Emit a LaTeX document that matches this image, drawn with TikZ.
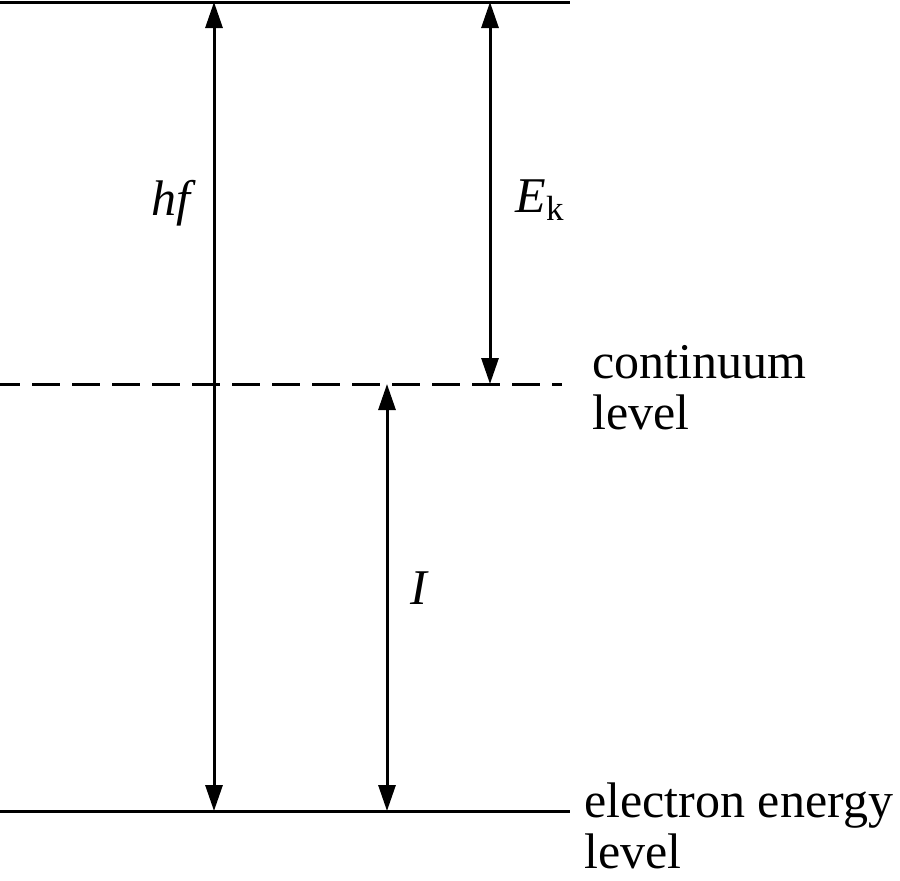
\documentclass[tikz,border=0pt]{standalone}
\usepackage{fontspec}
\setmainfont{Liberation Serif}
\usetikzlibrary{arrows.meta, positioning}

\begin{document}
\begin{tikzpicture}[x=0.5pt, y=-0.5pt,
  level/.style={line width=1.5pt},
  gap/.style={line width=1.5pt, {Triangle[length=13pt, width=8.5pt]}-{Triangle[length=13pt, width=8.5pt]}},
  lbl/.style={font=\fontsize{25pt}{25.5pt}\selectfont, inner sep=0pt},
  side/.style={lbl, align=left, anchor=west}]
\useasboundingbox (0,0) rectangle (900,880);

% Energy levels
\coordinate (topL) at (0,2);
\coordinate (topR) at (570,2);
\coordinate (contL) at (0,384);
\coordinate (contR) at (562,384);
\coordinate (elecL) at (0,811);
\coordinate (elecR) at (570,811);
\draw[level] (topL) -- (topR);
\draw[level, dash pattern=on 14pt off 6pt, dash phase=4pt] (contL) -- (contR);
\draw[level] (elecL) -- (elecR);

% Arrow end points
\coordinate (hftop) at (214,2);
\coordinate (hfbot) at (214,811);
\coordinate (ektop) at (490,2);
\coordinate (ekbot) at (490,384);
\coordinate (itop) at (387,384);
\coordinate (ibot) at (387,811);

\draw[gap] (hfbot) -- (hftop);
\draw[gap] (ektop) -- (ekbot);
\draw[gap] (ibot) -- (itop);

% Labels
\node[lbl] (hf) at (174,203) {\textit{hf}};
\node[lbl] (ek) at (540,200) {\textit{E}\textsubscript{k}};
\node[lbl] (ion) at (420,588) {\textit{I}};
\node[side] (cont) at (592,388) {continuum\\level};
\node[side] (elec) at (584,826) {electron energy\\level};
\end{tikzpicture}
\end{document}
